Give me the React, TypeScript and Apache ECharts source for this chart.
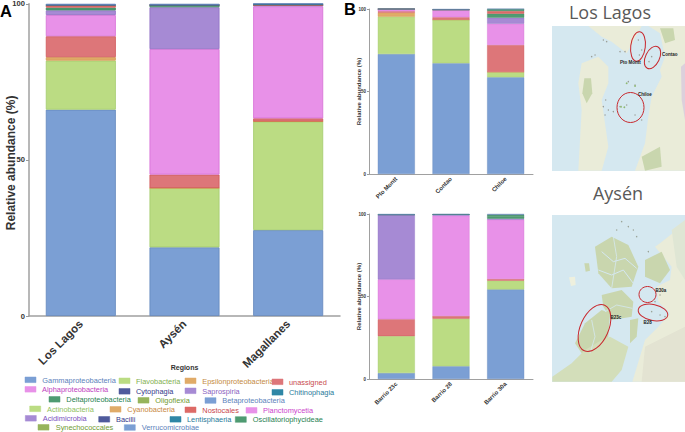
import React, { useEffect, useRef } from "react";
import * as echarts from "echarts";

const regions = ["Los Lagos", "Aysén", "Magallanes"];
const lakesSites = ["Pto Montt", "Contao", "Chiloe"];
const aysenSites = ["Barrio 23c", "Barrio 28", "Barrio 30a"];
const yTicks = [0, 50, 100];

const colors: Record<string, [string, string]> = {
  Gammaproteobacteria: ["#7b9fd4", "#6287bd"],
  Flavobacteria: ["#bbdc83", "#a3cb6c"],
  Epsilonproteobacteria: ["#e0ab68", "#d39a52"],
  unassigned: ["#dd7679", "#cf5558"],
  Alphaproteobacteria: ["#e891e8", "#d56fd5"],
  Saprospiria: ["#a68ad4", "#9070c4"],
  Deltaproteobacteria: ["#4f9b72", "#3c8a60"],
  Nostocales: ["#dd6a66", "#cf5558"],
  Betaproteobacteria: ["#6f8fc8", "#5f7fb8"],
  Chitinophagia: ["#2f7c98", "#256c88"],
  Oscillatoriophycideae: ["#3f8f68", "#2f7f58"],
};

const panelA: Record<string, number[]> = {
  Gammaproteobacteria: [66.1, 22, 27.5],
  Flavobacteria: [15.7, 19, 34.8],
  Epsilonproteobacteria: [1.1, 0, 0],
  unassigned: [6.7, 4.3, 1],
  Alphaproteobacteria: [6.8, 40.2, 35.9],
  Saprospiria: [1.5, 13.4, 0.4],
  Deltaproteobacteria: [0.9, 0.7, 0],
  Nostocales: [0.8, 0, 0],
  Chitinophagia: [0, 0, 0.4],
  Betaproteobacteria: [0.4, 0.4, 0],
};
const panelB1: Record<string, number[]> = {
  Gammaproteobacteria: [72.7, 67.1, 58.6],
  Flavobacteria: [22.7, 26.4, 3.2],
  Epsilonproteobacteria: [2.4, 0, 0],
  unassigned: [0.8, 1.5, 16.4],
  Alphaproteobacteria: [1.4, 4.2, 12.9],
  Saprospiria: [0, 0.4, 3.6],
  Deltaproteobacteria: [0, 0, 2.5],
  Nostocales: [0, 0, 1.6],
  Oscillatoriophycideae: [0, 0, 1.2],
  Betaproteobacteria: [0, 0.4, 0],
};
const panelB2: Record<string, number[]> = {
  Gammaproteobacteria: [3.6, 7.7, 54.3],
  Flavobacteria: [22.4, 28.9, 5.3],
  unassigned: [10.2, 1.6, 1],
  Alphaproteobacteria: [24.2, 60.8, 36],
  Saprospiria: [39.2, 0.7, 0.6],
  Deltaproteobacteria: [0, 0, 1.6],
  Oscillatoriophycideae: [0, 0, 0.8],
  Betaproteobacteria: [0.4, 0.3, 0.4],
};

const legendNames = [
  "Gammaproteobacteria", "Flavobacteria", "Epsilonproteobacteria", "unassigned",
  "Alphaproteobacteria", "Cytophagia", "Saprospiria", "Chitinophagia",
  "Deltaproteobacteria", "Oligoflexia", "Betaproteobacteria",
  "Actinobacteria", "Cyanobacteria", "Nostocales", "Planctomycetia",
  "Acidimicrobia", "Bacilli", "Lentisphaeria", "Oscillatoriophycideae",
  "Synechococcales", "Verrucomicrobiae",
];
const legendSwatch = [
  "#7b9fd4", "#bbdc83", "#e0ab68", "#dd7679",
  "#e891e8", "#4f5a9c", "#a68ad4", "#2f86a6",
  "#4f9b72", "#96b45c", "#7b9fd4",
  "#bbdc83", "#e0ab68", "#dd6a66", "#e891e8",
  "#a68ad4", "#4f5a9c", "#2f86a6", "#4f9b72",
  "#96b45c", "#7b9fd4",
];
const legendText = [
  "#5b82bb", "#7fb04f", "#c48a3e", "#c94a4e",
  "#c040c0", "#33388a", "#8a5fc0", "#1f7a9a",
  "#1f7f50", "#6f9a30", "#5b82bb",
  "#8fc060", "#c8883e", "#c9464a", "#cc44cc",
  "#7a50c0", "#33388a", "#1f7a9a", "#1f7f50",
  "#6f9a30", "#5b82bb",
];
// swatch left, text left, row centre (in pixels)
const legendPos: [number, number, number][] = [
  [25, 42.3, 380], [119, 136, 381], [185, 202.3, 381], [272, 289, 382],
  [25, 42, 389.5], [119, 136, 391.5], [185, 202.3, 391], [272, 289, 392.5],
  [49, 66.3, 399.5], [138, 155.3, 400.5], [205, 222.3, 400.7],
  [29.7, 47, 409], [110, 127.3, 409.5], [185, 202.3, 410], [246, 263, 410.5],
  [25.3, 42.7, 418.5], [98.7, 116, 419.5], [170, 187, 419.5], [235.3, 252.7, 419.7],
  [38, 55.7, 427.5], [124.3, 141.7, 427.7],
];

const FONT = "'Liberation Sans', Arial, sans-serif";

function poly(points: number[][], fill: string, z = 1) {
  return { type: "polygon", z, silent: true, shape: { points }, style: { fill } };
}
const m1 = (p: number[]) => [545 + p[0] / 3, p[1] / 3];
const m2 = (p: number[]) => [545 + p[0] / 3, 180 + p[1] / 3];

function channel(points: number[][], width: number) {
  return {
    type: "polyline", z: 3, silent: true, shape: { points },
    style: { fill: "none", stroke: "#d5e8f0", lineWidth: width },
  };
}
function specks(points: number[][], fill: string, r: number) {
  return points.map(([cx, cy]) => ({
    type: "circle", z: 3, silent: true, shape: { cx, cy, r }, style: { fill },
  }));
}
function ring(cx: number, cy: number, rx: number, ry: number, rotation: number) {
  return {
    type: "ellipse", z: 5, silent: true, x: cx, y: cy, rotation,
    shape: { cx: 0, cy: 0, rx, ry },
    style: { fill: "none", stroke: "#c8282e", lineWidth: 1 },
  };
}
function mapLabel(text: string, x: number, y: number) {
  return {
    type: "text", z: 6, x, y, silent: true,
    style: { text, fill: "#222", font: `bold 4.5px ${FONT}`, align: "left", verticalAlign: "middle" },
  };
}

const LAND = "#eaecd9", GREEN = "#c9d6ae", WATER = "#d5e8f0", GREY = "#9a9c94";

const mapGraphics: any[] = [
  { type: "rect", z: 0, silent: true, shape: { x: 552, y: 26, width: 133, height: 145 }, style: { fill: WATER } },
  poly([[110,190],[160,170],[190,200],[190,250],[170,300],[180,370],[190,440],[170,512],[100,512],[105,420],[110,330],[100,250]].map(m1), LAND),
  poly([[118,235],[138,235],[142,280],[125,310],[112,280]].map(m1), GREEN, 2),
  poly([[310,78],[420,78],[420,512],[270,512],[300,430],[310,350],[320,290],[350,230],[345,210],[360,170],[345,100]].map(m1), LAND),
  poly([[345,85],[385,85],[390,120],[360,130]].map(m1), GREEN, 2),
  poly([[290,470],[345,440],[350,500],[300,512]].map(m1), GREEN, 2),
  poly([[408,200],[420,190],[420,360],[410,300]].map(m1), "#dcd0dc", 2),
  poly([[130,78],[290,78],[262,130],[245,160],[200,125],[170,110]].map(m1), LAND),
  ...specks([[175,120],[185,125],[195,130],[140,170],[150,165],[165,172],[225,155],[240,155],[250,245],[270,255],
    [172,295],[182,300],[192,295],[205,310],[175,320],[190,330],[205,335],[180,345],[195,352],[225,320],[245,315],
    [270,345],[275,355],[290,360],[270,130],[280,120],[275,145],[290,150],[283,165],[312,185],[320,170],[190,400],[180,430]].map(m1), GREY, 0.7),
  ...specks([[245,250],[270,258],[228,320],[238,322]].map(m1), "#8fb873", 0.9),
  ring(638, 46.5, 7.3, 14.8, -0.12),
  ring(652.5, 57.5, 7, 12, -0.45),
  ring(630.5, 107.5, 13.5, 15, 0),
  mapLabel("Pto Montt", 620, 62.5),
  mapLabel("Contao", 662, 54.5),
  mapLabel("Chiloe", 638, 94),

  { type: "rect", z: 0, silent: true, shape: { x: 552, y: 215, width: 133, height: 167 }, style: { fill: WATER } },
  poly([[420,130],[345,190],[330,200],[380,260],[375,300],[335,320],[340,365],[375,400],[340,440],[300,480],[262,605],[420,605]].map(m2), LAND),
  poly([[300,240],[350,215],[375,270],[345,310],[300,290]].map(m2), GREEN, 2),
  poly([[150,200],[200,170],[250,195],[280,260],[260,320],[200,325],[160,280]].map(m2), GREEN, 2),
  poly([[170,345],[230,330],[265,365],[260,410],[200,420],[175,380]].map(m2), GREEN, 2),
  poly([[120,430],[170,390],[195,400],[190,470],[150,520],[110,520],[90,490]].map(m2), GREEN, 2),
  poly([[22,605],[22,590],[80,550],[120,510],[170,480],[195,470],[250,500],[230,570],[200,605]].map(m2), "#d3deba", 2),
  poly([[255,420],[280,415],[275,470],[255,490]].map(m2), GREEN, 2),
  poly([[118,250],[132,250],[135,272],[122,275]].map(m2), GREEN, 2),
  poly([[72,292],[90,290],[92,315],[78,318]].map(m2), "#eef0de", 2),
  poly([[380,150],[420,120],[420,300],[395,260]].map(m2), "#dfe6d4", 3),
  poly([[300,500],[420,440],[420,605],[290,605]].map(m2), "#e3e3d2", 3),
  channel([[170,215],[205,245],[240,235],[275,265]].map(m2), 1),
  channel([[160,270],[200,285],[235,270],[265,310]].map(m2), 1),
  channel([[205,170],[215,230],[200,325]].map(m2), 0.8),
  channel([[180,395],[215,375],[262,385]].map(m2), 0.8),
  channel([[140,420],[150,470],[135,520]].map(m2), 0.8),
  ...specks([[230,125],[245,118],[250,140],[265,150],[235,160],[275,170],[215,150],[290,190],[310,215],[320,145],[335,130],
    [345,345],[355,385],[330,365],[300,385],[320,395],[345,405],[360,410]].map(m2), "#9aa296", 0.7),
  ring(594.5, 328, 14, 25, -0.42),
  ring(647.5, 294.5, 8.5, 8, 0),
  ring(653, 312.5, 15, 8, -0.2),
  mapLabel("B30a", 655.5, 290.5),
  mapLabel("B28", 643.5, 322.5),
  mapLabel("B23c", 610.5, 317),
];

function grid(left: number, top: number, width: number, height: number) {
  return { left, top, width, height, containLabel: false, outerBoundsMode: "none" };
}
function xAxis(i: number, data: string[], size: number, margin: number) {
  return {
    type: "category", gridIndex: i, data,
    axisTick: { alignWithLabel: true, length: i === 0 ? 3 : 2, lineStyle: { color: "#999" } },
    axisLine: { lineStyle: { color: "#a0a0a0", width: i === 0 ? 1.5 : 1 } },
    axisLabel: { rotate: 45, fontSize: size, fontWeight: "bold", color: "#333", margin, fontFamily: FONT, interval: 0 },
  };
}
function yAxis(i: number, size: number, nameSize: number, gap: number) {
  return {
    type: "value", gridIndex: i, min: yTicks[0], max: yTicks[2], interval: yTicks[1],
    name: "Relative abundance (%)", nameLocation: "middle", nameGap: gap, nameMoveOverlap: false,
    nameTextStyle: { fontSize: nameSize, fontWeight: "bold", color: "#333", fontFamily: FONT, padding: i === 0 ? [0, 6, 0, 0] : 0 },
    splitLine: { show: false },
    axisLine: { show: true, lineStyle: { color: "#a0a0a0", width: i === 0 ? 1.5 : 1 } },
    axisTick: { show: true, length: i === 0 ? 3 : 2, lineStyle: { color: "#999" } },
    axisLabel: { fontSize: size, fontWeight: "bold", color: "#333", margin: i === 0 ? 4 : 3, fontFamily: FONT },
  };
}
function seriesFor(panel: Record<string, number[]>, i: number, barWidth: number) {
  return Object.keys(panel).map((name) => ({
    type: "bar", name, xAxisIndex: i, yAxisIndex: i, stack: "p" + i, barWidth,
    data: panel[name],
    itemStyle: { color: colors[name][0], borderColor: colors[name][1], borderWidth: i === 0 ? 0.8 : 0.4 },
  }));
}

export default function App() {
  const ref = useRef<HTMLDivElement>(null);
  useEffect(() => {
    const chart = echarts.init(ref.current!, undefined, { renderer: "svg" });
    const legendGraphics: any[] = [];
    legendNames.forEach((n, i) => {
      const [sx, tx, y] = legendPos[i];
      legendGraphics.push({
        type: "rect", silent: true, z: 3, shape: { x: sx, y: y - 3, width: 11, height: 5.6 },
        style: { fill: legendSwatch[i], stroke: legendSwatch[i], lineWidth: 0.5 },
      });
      legendGraphics.push({
        type: "text", silent: true, z: 3, x: tx, y,
        style: { text: n, fill: legendText[i], font: `7.4px ${FONT}`, align: "left", verticalAlign: "middle" },
      });
    });
    chart.setOption({
      animation: false,
      backgroundColor: "#fff",
      textStyle: { fontFamily: FONT },
      grid: [grid(29, 3.8, 311, 312.2), grid(369, 9, 164, 165), grid(369, 214, 164, 165)],
      xAxis: [xAxis(0, regions, 11.5, 6), xAxis(1, lakesSites, 6, 4), xAxis(2, aysenSites, 6, 4)],
      yAxis: [yAxis(0, 7.6, 12, 12), yAxis(1, 4.5, 6, 7), yAxis(2, 4.5, 6, 7)],
      series: [...seriesFor(panelA, 0, 70), ...seriesFor(panelB1, 1, 37), ...seriesFor(panelB2, 2, 37)],
      graphic: [
        { type: "text", silent: true, x: 0, y: 11, style: { text: "A", fill: "#000", font: `bold 16.5px ${FONT}`, verticalAlign: "middle" } },
        { type: "text", silent: true, x: 344, y: 8.5, style: { text: "B", fill: "#000", font: `bold 16.5px ${FONT}`, verticalAlign: "middle" } },
        { type: "text", silent: true, x: 184.5, y: 367.5, style: { text: "Regions", fill: "#333", font: `bold 7px ${FONT}`, align: "center", verticalAlign: "middle" } },
        { type: "text", silent: true, x: 610, y: 12, style: { text: "Los Lagos", fill: "#595959", font: `18px 'Open Sans', ${FONT}`, align: "center", verticalAlign: "middle" } },
        { type: "text", silent: true, x: 618, y: 193, style: { text: "Aysén", fill: "#595959", font: `18px 'Open Sans', ${FONT}`, align: "center", verticalAlign: "middle" } },
        ...mapGraphics,
        ...legendGraphics,
      ],
    });
    return () => chart.dispose();
  }, []);
  return <div ref={ref} style={{ position: "fixed", left: 0, top: 0, width: 685, height: 432 }} />;
}
